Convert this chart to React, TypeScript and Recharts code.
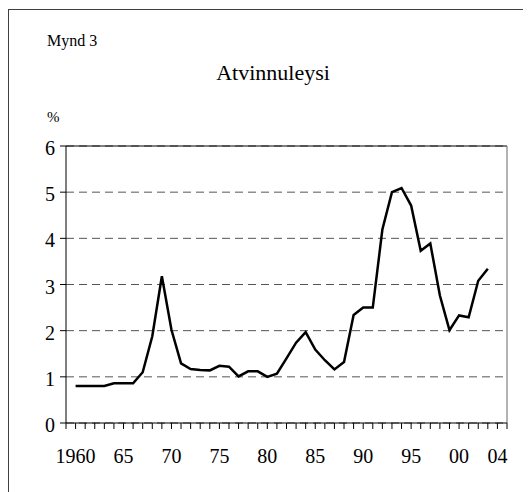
import { LineChart, Line, XAxis, YAxis, CartesianGrid, ReferenceLine } from "recharts";

const years = [
  1960, 1961, 1962, 1963, 1964, 1965, 1966, 1967, 1968, 1969,
  1970, 1971, 1972, 1973, 1974, 1975, 1976, 1977, 1978, 1979,
  1980, 1981, 1982, 1983, 1984, 1985, 1986, 1987, 1988, 1989,
  1990, 1991, 1992, 1993, 1994, 1995, 1996, 1997, 1998, 1999,
  2000, 2001, 2002, 2003,
];

const unemployment = [
  0.8, 0.8, 0.8, 0.8, 0.86, 0.86, 0.86, 1.1, 1.88, 3.18,
  2.02, 1.29, 1.17, 1.15, 1.14, 1.24, 1.22, 1.01, 1.12, 1.12,
  1.0, 1.07, 1.4, 1.74, 1.97, 1.59, 1.36, 1.16, 1.32, 2.34,
  2.5, 2.5, 4.19, 5.0, 5.09, 4.71, 3.73, 3.89, 2.76, 2.01,
  2.33, 2.29, 3.08, 3.34,
];

// every year gets a tick mark, only some get a label
const tickYears = Array.from({ length: 47 }, (_, i) => 1959 + i);
const labelYears = [1960, 1965, 1970, 1975, 1980, 1985, 1990, 1995, 2000, 2004];
const labelTexts = ["1960", "65", "70", "75", "80", "85", "90", "95", "00", "04"];

const yTicks = [0, 1, 2, 3, 4, 5, 6];

const data = years.map((year, i) => ({ year, value: unemployment[i] }));

const FONT = "Liberation Serif, serif";

// y passed in is axis + tickSize + tickMargin(2)
function YearTick({ x, y, payload }: { x?: number; y?: number; payload?: { value: number } }) {
  const ty = y ?? 0;
  const idx = labelYears.indexOf(payload?.value ?? 0);
  return (
    <g>
      <line x1={x} x2={x} y1={ty - 8} y2={ty - 2} stroke="#000" />
      {idx >= 0 && (
        <text x={x} y={ty + 32} textAnchor="middle" fontFamily={FONT} fontSize={20} fill="#000">
          {labelTexts[idx]}
        </text>
      )}
    </g>
  );
}

function ValueTick({ x, y, payload }: { x?: number; y?: number; payload?: { value: number } }) {
  const tx = x ?? 0;
  return (
    <g>
      <line x1={tx + 5} x2={tx + 11} y1={y} y2={y} stroke="#000" />
      <text x={tx} y={(y ?? 0) + 9} textAnchor="end" fontFamily={FONT} fontSize={20} fill="#000">
        {payload?.value}
      </text>
    </g>
  );
}

export default function App() {
  return (
    <div style={{ position: "relative", width: 523, height: 484 }}>
      <LineChart
        width={523}
        height={484}
        data={data}
        margin={{ top: 138, right: 24, bottom: 29, left: 0 }}
      >
        <CartesianGrid vertical={false} strokeDasharray="8 5" stroke="#555" />
        <XAxis
          dataKey="year"
          type="number"
          domain={[1959, 2005]}
          ticks={tickYears}
          interval={0}
          height={40}
          tickSize={6}
          tickMargin={2}
          tickLine={false}
          tick={<YearTick />}
          stroke="#000"
        />
        <YAxis
          type="number"
          domain={[0, 6]}
          ticks={yTicks}
          interval={0}
          width={58}
          tickSize={6}
          tickMargin={5}
          tickLine={false}
          stroke="#000"
          tick={<ValueTick />}
        />
        <ReferenceLine y={6} stroke="#000" strokeWidth={1} />
        <ReferenceLine x={2005} stroke="#666" strokeWidth={1} />
        <Line
          type="linear"
          dataKey="value"
          stroke="#000"
          strokeWidth={2.5}
          dot={false}
          isAnimationActive={false}
        />
      </LineChart>
      <svg
        width={523}
        height={484}
        style={{ position: "absolute", left: 0, top: 0, pointerEvents: "none" }}
      >
        <line x1={0} y1={1.5} x2={523} y2={1.5} stroke="#404040" />
        <line x1={0.5} y1={1} x2={0.5} y2={484} stroke="#404040" />
        <text x={39} y={38} fill="#000" fontFamily={FONT} fontSize={16}>
          Mynd 3
        </text>
        <text x={265} y={72} fill="#000" textAnchor="middle" fontFamily={FONT} fontSize={22}>
          Atvinnuleysi
        </text>
        <text x={39} y={114} fill="#000" fontFamily={FONT} fontSize={15}>
          %
        </text>
      </svg>
    </div>
  );
}
